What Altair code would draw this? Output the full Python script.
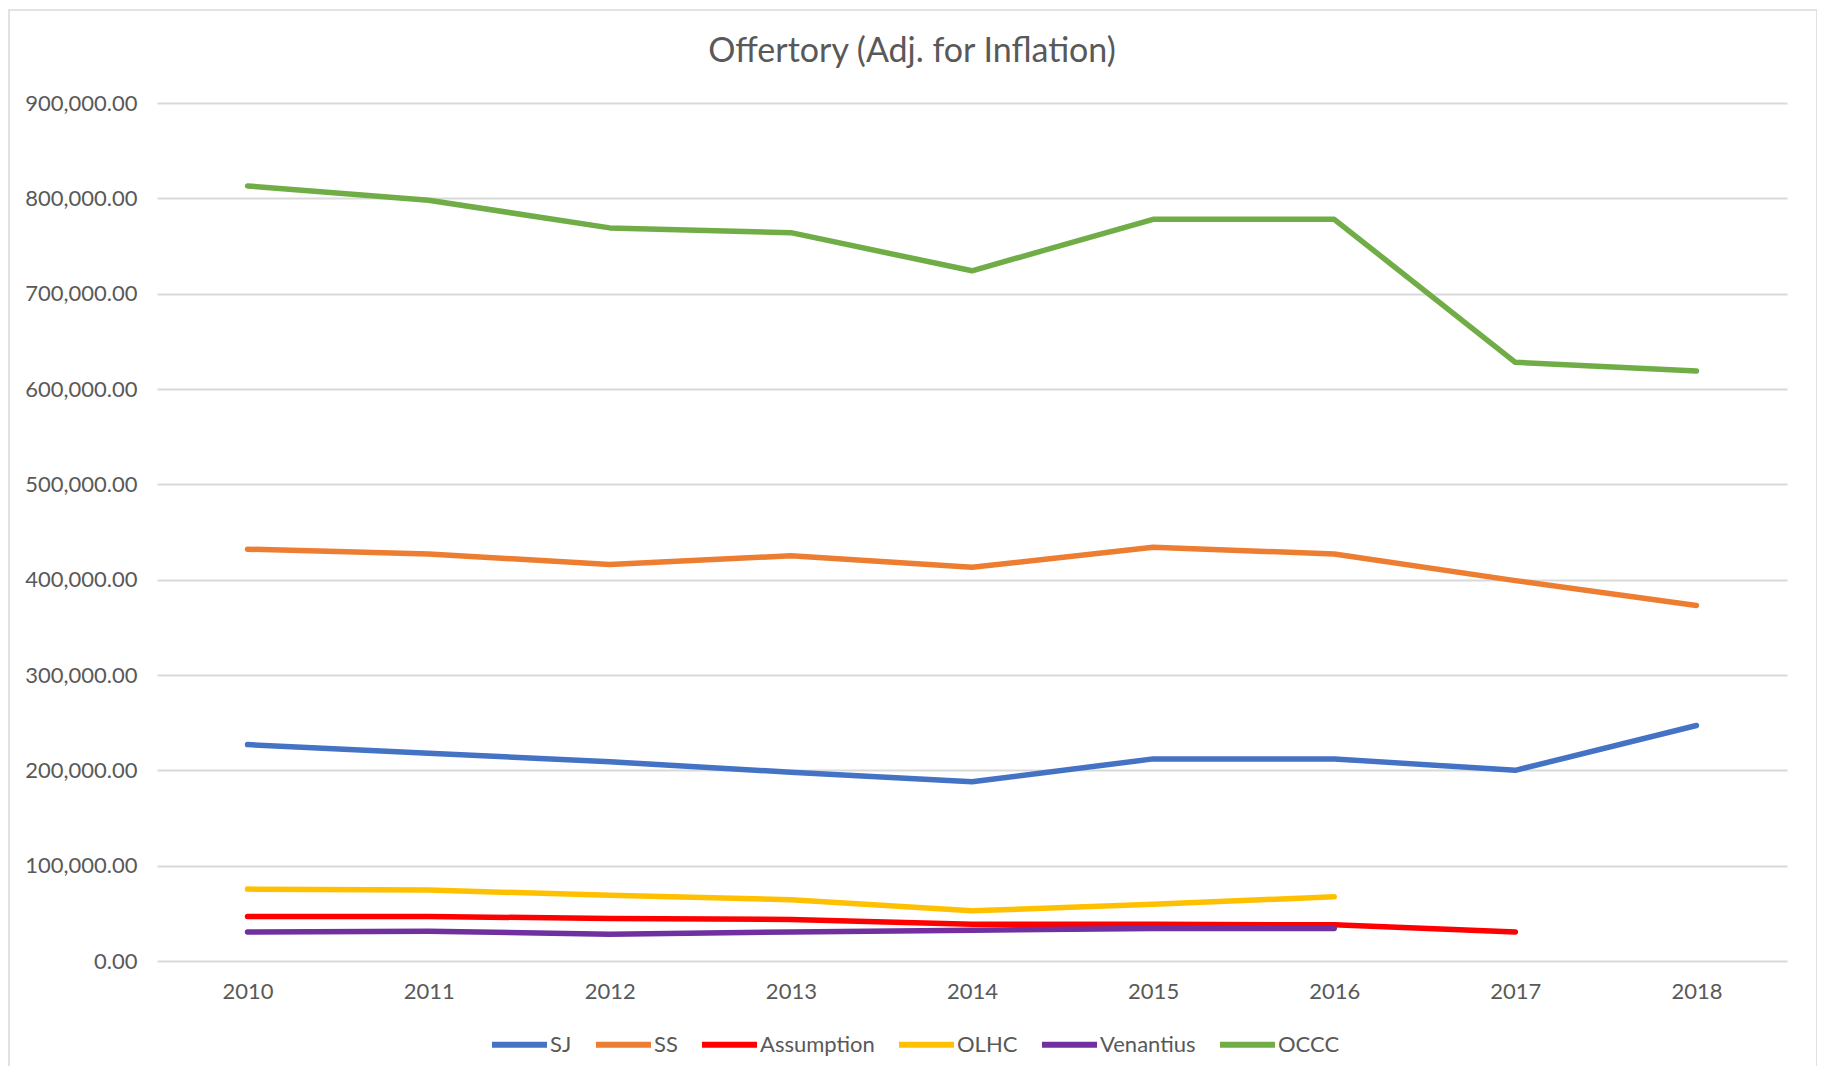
import altair as alt
import pandas as pd

years = ["2010", "2011", "2012", "2013", "2014", "2015", "2016", "2017", "2018"]
series_names = ["SJ", "SS", "Assumption", "OLHC", "Venantius", "OCCC"]
series_colors = ["#4472C4", "#ED7D31", "#FF0000", "#FFC000", "#7030A0", "#70AD47"]

sj = [227000, 218000, 209000, 198000, 188000, 212000, 212000, 200000, 247000]
ss = [432000, 427000, 416000, 425000, 413000, 434000, 427000, 399000, 373000]
assumption = [46700, 46700, 44600, 43500, 38600, 38600, 37900, 30500, None]
olhc = [75400, 74400, 69000, 64200, 52600, 59600, 67400, None, None]
venantius = [30500, 31200, 28100, 30500, 32300, 34000, 34000, None, None]
occc = [813000, 798000, 769000, 764000, 724000, 778000, 778000, 628000, 619000]

y_ticks = [0, 100000, 200000, 300000, 400000, 500000, 600000, 700000, 800000, 900000]

values_by_series = [sj, ss, assumption, olhc, venantius, occc]
rows = []
for name, vals in zip(series_names, values_by_series):
    for yr, v in zip(years, vals):
        if v is not None:
            rows.append({"Year": yr, "Value": v, "Series": name, "Order": series_names.index(name)})
df = pd.DataFrame(rows)

W, H = 1630, 858
TEXT = "#595959"
FONT = "Lato"

lines = alt.Chart(df).mark_line(strokeWidth=5.5, strokeCap="round", strokeJoin="round").encode(
    x=alt.X("Year:O", sort=years,
            scale=alt.Scale(type="point", padding=0.5),
            axis=alt.Axis(title=None, labelAngle=0, domain=False, ticks=False, grid=False,
                          labelPadding=20, labelFontSize=22, labelColor=TEXT, labelFont=FONT)),
    y=alt.Y("Value:Q", scale=alt.Scale(domain=[0, 900000], nice=False),
            axis=alt.Axis(title=None, values=y_ticks, format=",.2f", domain=False, ticks=False,
                          grid=True, gridColor="#D9D9D9", gridWidth=1.8,
                          labelPadding=20, labelFontSize=22, labelColor=TEXT, labelFont=FONT)),
    color=alt.Color("Series:N", sort=series_names,
                    scale=alt.Scale(domain=series_names, range=series_colors),
                    legend=alt.Legend(title=None, orient="none", direction="horizontal",
                                      legendX=332, legendY=911,
                                      symbolType="stroke", symbolSize=3025, symbolStrokeWidth=6,
                                      labelFontSize=22, labelColor=TEXT, labelFont=FONT,
                                      labelOffset=0, columnPadding=12, padding=0)),
    order=alt.Order("Order:Q"),
    detail="Series:N",
)

border = alt.Chart(pd.DataFrame({"a": [0]})).mark_rect(
    fillOpacity=0, stroke="#D9D9D9", strokeWidth=1.5
).encode(
    x=alt.value(-148), x2=alt.value(1660), y=alt.value(-93), y2=alt.value(1100)
)

chart = alt.layer(border, lines).properties(
    width=W, height=H,
    background="white",
    title=alt.TitleParams("Offertory (Adj. for Inflation)", fontSize=34, color=TEXT,
                          font=FONT, fontWeight="normal", anchor="middle", dx=-60,
                          baseline="middle", offset=-77),
    padding={"left": 149, "top": 95, "right": 30, "bottom": 105},
    autosize=alt.AutoSizeParams(type="none"),
).configure_view(strokeWidth=0, stroke="transparent")

chart.save("out.html", embed_options={"renderer": "svg", "actions": False})
